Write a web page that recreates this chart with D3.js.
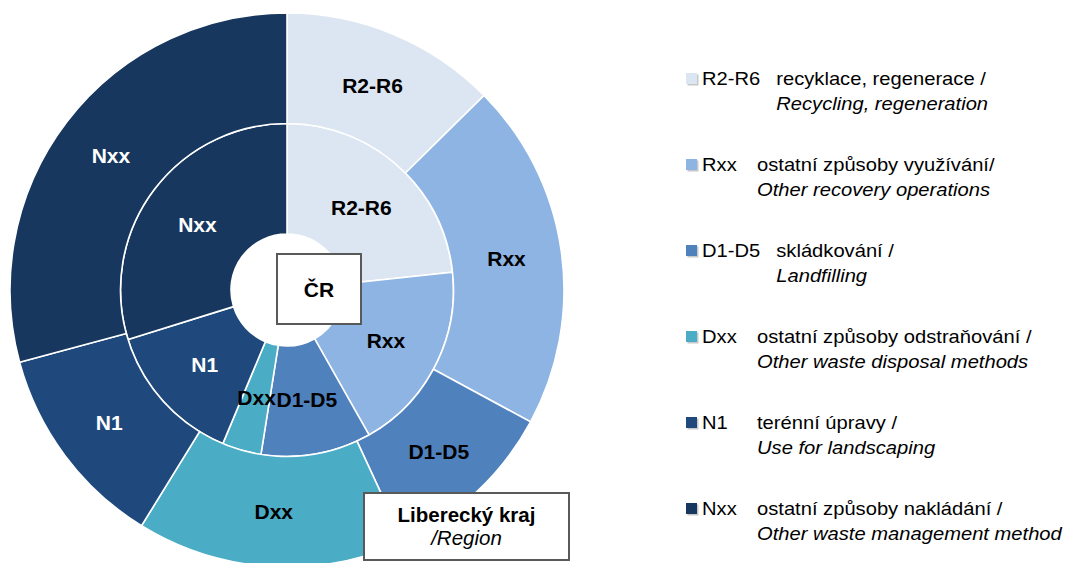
<!DOCTYPE html>
<html>
<head>
<meta charset="utf-8">
<script src="https://cdn.jsdelivr.net/npm/d3@7"></script>
<style>
	body { margin: 0; background: #fff; }
	#chart { width: 1075px; height: 563px; }
	text { font-family: "Liberation Sans", Arial, sans-serif; }
</style>
</head>
<body>
<div id="chart"></div>
<script>
//categories, clockwise from 12 o'clock
var categories = ['R2-R6', 'Rxx', 'D1-D5', 'Dxx', 'N1', 'Nxx'];
var descCz = [
	'recyklace, regenerace /',
	'ostatní způsoby využívání/',
	'skládkování /',
	'ostatní způsoby odstraňování /',
	'terénní úpravy /',
	'ostatní způsoby nakládání /'
];
var descEn = [
	'Recycling, regeneration',
	'Other recovery operations',
	'Landfilling',
	'Other waste disposal methods',
	'Use for landscaping',
	'Other waste management method'
];
//shares in % (inner ring = ČR, outer ring = Liberecký kraj)
var valuesCR = [23.3, 18.5, 10.7, 3.8, 13.9, 29.8];
var valuesRegion = [12.6, 20.3, 10.2, 15.7, 12.0, 29.2];
var colors = ['#dce6f2', '#8eb4e3', '#4f81bd', '#4bacc6', '#1f497d', '#17375e'];
var labelColors = ['#000', '#000', '#000', '#000', '#fff', '#fff'];

var donutChart = function(opts) {
	this.element = opts.element;
	this.center = opts.center;
	this.radii = opts.radii;
	this.draw(this.element);
}

donutChart.prototype.draw = function(chartElement) {
	this.width = chartElement.offsetWidth;
	this.height = chartElement.offsetHeight;

	chartElement.innerHTML = '';
	this.svg = d3.select(chartElement).append('svg')
		.attr('width', this.width)
		.attr('height', this.height);

	this.plot = this.svg.append('g')
		.attr('transform', 'translate(' + this.center[0] + ',' + this.center[1] + ')');

	this.colorScale = d3.scaleOrdinal().domain(categories).range(colors);
	this.textScale = d3.scaleOrdinal().domain(categories).range(labelColors);

	//inner ring first, outer ring second
	this.addRing(valuesCR, this.radii[0], this.radii[1], 'inner');
	this.addRing(valuesRegion, this.radii[1], this.radii[2], 'outer');
	this.addBoxes();
	this.addLegend();
}

donutChart.prototype.addRing = function(values, r0, r1, cls) {
	var that = this;
	var data = values.map(function(v, i) { return { key: categories[i], value: v }; });

	var pie = d3.pie()
		.sort(null)
		.value(function(d) { return d.value; });
	var arc = d3.arc().innerRadius(r0).outerRadius(r1);

	var g = this.plot.append('g').attr('class', cls);

	g.selectAll('path')
		.data(pie(data))
		.enter().append('path')
		.attr('d', arc)
		.style('fill', function(d) { return that.colorScale(d.data.key); })
		.style('stroke', '#fff')
		.style('stroke-width', 1.6);

	g.selectAll('text')
		.data(pie(data))
		.enter().append('text')
		.attr('transform', function(d) { return 'translate(' + arc.centroid(d) + ')'; })
		.attr('dy', '0.36em')
		.attr('text-anchor', 'middle')
		.style('font-size', '21px')
		.style('font-weight', 'bold')
		.style('fill', function(d) { return that.textScale(d.data.key); })
		.text(function(d) { return d.data.key; });
}

donutChart.prototype.addBoxes = function() {
	//ČR tag in the hole
	this.svg.append('rect')
		.attr('x', 277).attr('y', 254)
		.attr('width', 84).attr('height', 70)
		.style('fill', '#fff')
		.style('stroke', '#595959')
		.style('stroke-width', 2);
	this.svg.append('text')
		.attr('x', 319).attr('y', 297)
		.attr('text-anchor', 'middle')
		.style('font-size', '21px')
		.style('font-weight', 'bold')
		.text('ČR');

	//region tag
	this.svg.append('rect')
		.attr('x', 364).attr('y', 493)
		.attr('width', 205).attr('height', 67)
		.style('fill', '#fff')
		.style('stroke', '#595959')
		.style('stroke-width', 2);
	this.svg.append('text')
		.attr('x', 466.5).attr('y', 522)
		.attr('text-anchor', 'middle')
		.style('font-size', '20.5px')
		.style('font-weight', 'bold')
		.text('Liberecký kraj');
	this.svg.append('text')
		.attr('x', 466.5).attr('y', 545)
		.attr('text-anchor', 'middle')
		.style('font-size', '20.5px')
		.style('font-style', 'italic')
		.text('/Region');
}

donutChart.prototype.addLegend = function() {
	var that = this;
	var sx = 1.12; //legend text is drawn a bit wide
	var y = d3.scalePoint().domain(categories).range([85, 515]);

	var items = this.svg.append('g').attr('class', 'legend')
		.selectAll('g')
		.data(categories)
		.enter().append('g');

	//marker with a soft shadow edge
	items.append('rect')
		.attr('x', 687.5).attr('y', function(d) { return y(d) - 10.5; })
		.attr('width', 11).attr('height', 11)
		.style('fill', '#c8c8c8');
	items.append('rect')
		.attr('x', 686).attr('y', function(d) { return y(d) - 12; })
		.attr('width', 11).attr('height', 11)
		.style('fill', function(d) { return that.colorScale(d); });

	items.each(function(d, i) {
		var item = d3.select(this);
		var code = item.append('text')
			.attr('transform', 'translate(702,' + y(d) + ') scale(' + sx + ',1)')
			.style('font-size', '18px')
			.text(d);
		var descX = Math.max(757, 702 + code.node().getComputedTextLength() * sx + 16);

		item.append('text')
			.attr('transform', 'translate(' + descX + ',' + y(d) + ') scale(' + sx + ',1)')
			.style('font-size', '18px')
			.text(descCz[i]);
		item.append('text')
			.attr('transform', 'translate(' + descX + ',' + (y(d) + 25) + ') scale(' + sx + ',1)')
			.style('font-size', '18px')
			.style('font-style', 'italic')
			.text(descEn[i]);
	});
}

var chart = new donutChart({
	element: document.getElementById('chart'),
	center: [287, 290],
	radii: [56, 166.5, 277]
});
</script>
</body>
</html>
